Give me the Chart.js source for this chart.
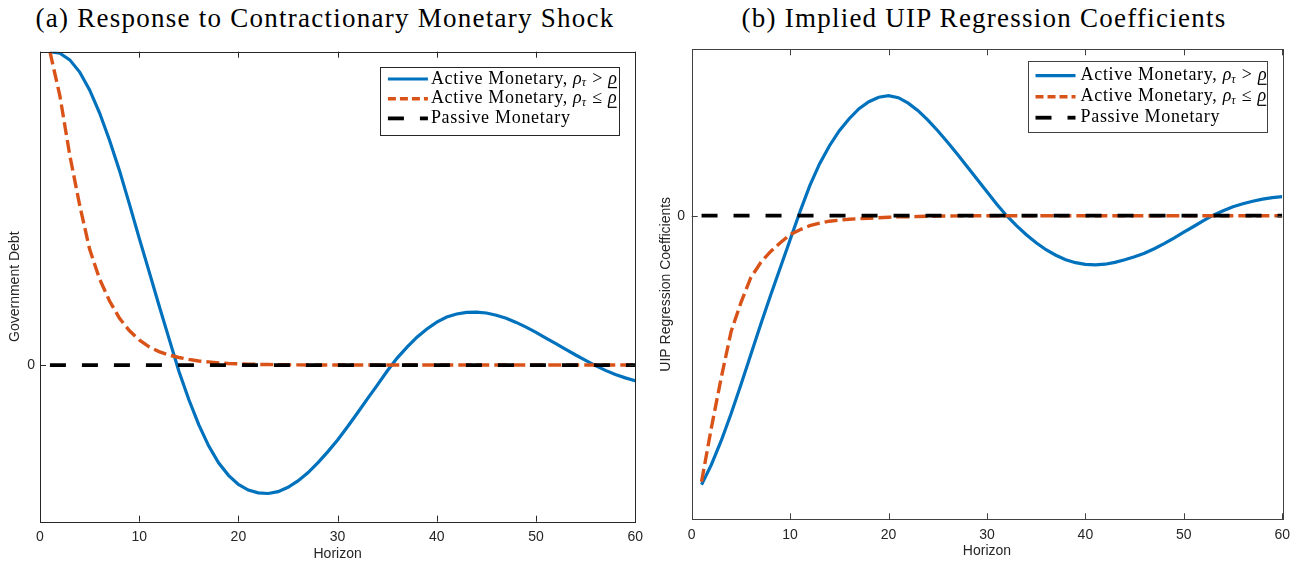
<!DOCTYPE html>
<html>
<head>
<meta charset="utf-8">
<script src="https://cdn.jsdelivr.net/npm/chart.js@4.4.1/dist/chart.umd.min.js"></script>
<style>
    body { margin: 0; background: #fff; width: 1297px; height: 563px; overflow: hidden; position: relative; }
    canvas { position: absolute; top: 0; }
    .panelTitle { position: absolute; top: 3px; font-family: "Liberation Serif", serif; font-size: 27px; letter-spacing: 1.25px; color: #000; white-space: nowrap; text-align: center; }
</style>
</head>
<body>
<div class="panelTitle" style="left:0; width:650px">(a) Response to Contractionary Monetary Shock</div>
<div class="panelTitle" style="left:660px; width:648px">(b) Implied UIP Regression Coefficients</div>
<canvas id="debtChart" width="650" height="563" style="left:0"></canvas>
<canvas id="uipChart" width="647" height="563" style="left:650px"></canvas>
<script>
const horizon = [1, 2, 3, 4, 5, 6, 7, 8, 9, 10, 11, 12, 13, 14, 15, 16, 17, 18, 19, 20,
    21, 22, 23, 24, 25, 26, 27, 28, 29, 30, 31, 32, 33, 34, 35, 36, 37, 38, 39, 40,
    41, 42, 43, 44, 45, 46, 47, 48, 49, 50, 51, 52, 53, 54, 55, 56, 57, 58, 59, 60];

// (a) government debt response
const debtActiveHigh = [1.0, 0.995, 0.974, 0.935, 0.878, 0.805, 0.718, 0.622, 0.515, 0.405,
    0.298, 0.19, 0.085, -0.02, -0.11, -0.19, -0.258, -0.312, -0.352, -0.381,
    -0.399, -0.408, -0.41, -0.404, -0.39, -0.37, -0.344, -0.312, -0.277, -0.239,
    -0.197, -0.153, -0.108, -0.064, -0.019, 0.022, 0.057, 0.089, 0.115, 0.137,
    0.153, 0.163, 0.168, 0.169, 0.166, 0.159, 0.149, 0.136, 0.121, 0.104,
    0.086, 0.068, 0.05, 0.032, 0.015, -0.002, -0.017, -0.03, -0.041, -0.05];
const debtActiveLow = [1.0, 0.86, 0.67, 0.51, 0.37, 0.275, 0.205, 0.15, 0.11, 0.08,
    0.058, 0.043, 0.032, 0.024, 0.018, 0.013, 0.01, 0.007, 0.005, 0.004,
    0.003, 0.002, 0.0015, 0.001, 0.0007, 0.0005, 0.0003, 0.0002, 0.0001, 0,
    0, 0, 0, 0, 0, 0, 0, 0, 0, 0,
    0, 0, 0, 0, 0, 0, 0, 0, 0, 0,
    0, 0, 0, 0, 0, 0, 0, 0, 0, 0];
const debtPassive = [0, 0, 0, 0, 0, 0, 0, 0, 0, 0, 0, 0, 0, 0, 0, 0, 0, 0, 0, 0,
    0, 0, 0, 0, 0, 0, 0, 0, 0, 0, 0, 0, 0, 0, 0, 0, 0, 0, 0, 0,
    0, 0, 0, 0, 0, 0, 0, 0, 0, 0, 0, 0, 0, 0, 0, 0, 0, 0, 0, 0];

// (b) implied UIP regression coefficients
const uipActiveHigh = [-2.69, -2.49, -2.25, -1.98, -1.69, -1.39, -1.09, -0.80, -0.52, -0.24,
    0.04, 0.30, 0.52, 0.70, 0.85, 0.97, 1.07, 1.14, 1.185, 1.20,
    1.18, 1.125, 1.05, 0.955, 0.85, 0.735, 0.615, 0.49, 0.365, 0.24,
    0.115, 0.0, -0.10, -0.19, -0.27, -0.34, -0.395, -0.44, -0.47, -0.487,
    -0.492, -0.485, -0.467, -0.44, -0.41, -0.375, -0.33, -0.28, -0.225, -0.165,
    -0.108, -0.05, 0.005, 0.05, 0.09, 0.12, 0.145, 0.165, 0.18, 0.19];
const uipActiveLow = [-2.66, -2.12, -1.62, -1.16, -0.87, -0.62, -0.47, -0.36, -0.27, -0.19,
    -0.14, -0.10, -0.075, -0.055, -0.045, -0.035, -0.03, -0.025, -0.02, -0.015,
    -0.012, -0.01, -0.008, -0.006, -0.004, -0.003, -0.002, -0.001, 0, 0,
    0, 0, 0, 0, 0, 0, 0, 0, 0, 0,
    0, 0, 0, 0, 0, 0, 0, 0, 0, 0,
    0, 0, 0, 0, 0, 0, 0, 0, 0, 0];
const uipPassive = [0, 0, 0, 0, 0, 0, 0, 0, 0, 0, 0, 0, 0, 0, 0, 0, 0, 0, 0, 0,
    0, 0, 0, 0, 0, 0, 0, 0, 0, 0, 0, 0, 0, 0, 0, 0, 0, 0, 0, 0,
    0, 0, 0, 0, 0, 0, 0, 0, 0, 0, 0, 0, 0, 0, 0, 0, 0, 0, 0, 0];

const xTicks = [0, 10, 20, 30, 40, 50, 60];
const yTicks = [0];
const seriesLabels = ['Active Monetary, ρτ > ρ', 'Active Monetary, ρτ ≤ ρ', 'Passive Monetary'];
// legend text pieces: plain, italic math, subscript, underlined
const legendParts = [
    [['Active Monetary, ', ''], ['ρ', 'i'], ['τ', 'sub'], [' > ', ''], ['ρ', 'u']],
    [['Active Monetary, ', ''], ['ρ', 'i'], ['τ', 'sub'], [' ≤ ', ''], ['ρ', 'u']],
    [['Passive Monetary', '']]
];

const blue = '#0072BD';
const orange = '#D95319';
const tickFont = { family: '"Liberation Sans", Arial, sans-serif', size: 14 };

function toPoints(ys) {
    return horizon.map((h, i) => ({ x: h, y: ys[i] }));
}

function buildDatasets(high, low, passive) {
    return [
        { label: seriesLabels[0], parts: legendParts[0], data: toPoints(high), borderColor: blue, borderWidth: 3.2, order: 3 },
        { label: seriesLabels[1], parts: legendParts[1], data: toPoints(low), borderColor: orange, borderWidth: 3.4, borderDash: [13, 5], legendDash: [8, 4], order: 2 },
        { label: seriesLabels[2], parts: legendParts[2], data: toPoints(passive), borderColor: '#000', borderWidth: 3.8, borderDash: [16, 16], order: 1 }
    ];
}

// matlab style box with ticks pointing inward
const boxAxes = {
    id: 'boxAxes',
    afterDatasetsDraw(chart, args, opts) {
        const ctx = chart.ctx;
        const a = chart.chartArea;
        const xs = chart.scales.x, ys = chart.scales.y;
        ctx.save();
        ctx.strokeStyle = opts.color;
        ctx.lineWidth = 1;
        ctx.strokeRect(Math.round(a.left) + 0.5, Math.round(a.top) + 0.5, Math.round(a.right - a.left), Math.round(a.bottom - a.top));
        ctx.beginPath();
        xTicks.forEach(v => {
            const px = Math.round(xs.getPixelForValue(v)) + 0.5;
            ctx.moveTo(px, a.bottom); ctx.lineTo(px, a.bottom - 6);
            ctx.moveTo(px, a.top); ctx.lineTo(px, a.top + 6);
        });
        yTicks.forEach(v => {
            const py = Math.round(ys.getPixelForValue(v)) + 0.5;
            ctx.moveTo(a.left, py); ctx.lineTo(a.left + 6, py);
            ctx.moveTo(a.right, py); ctx.lineTo(a.right - 6, py);
        });
        ctx.stroke();
        ctx.restore();
    }
};

const innerLegend = {
    id: 'innerLegend',
    afterDraw(chart, args, opts) {
        const ctx = chart.ctx;
        const a = chart.chartArea;
        const x0 = a.right - opts.right - opts.width;
        const y0 = a.top + opts.top;
        ctx.save();
        ctx.fillStyle = '#fff';
        ctx.fillRect(x0, y0, opts.width, opts.height);
        ctx.strokeStyle = opts.color;
        ctx.lineWidth = 1;
        ctx.strokeRect(Math.round(x0) + 0.5, Math.round(y0) + 0.5, Math.round(opts.width), Math.round(opts.height));
        chart.data.datasets.forEach((ds, i) => {
            const cy = y0 + opts.firstRow + i * opts.rowGap;
            ctx.beginPath();
            ctx.strokeStyle = ds.borderColor;
            ctx.lineWidth = ds.borderWidth;
            ctx.setLineDash(ds.legendDash || ds.borderDash || []);
            ctx.moveTo(x0 + 7.7, cy);
            ctx.lineTo(x0 + 47.7, cy);
            ctx.stroke();
            ctx.setLineDash([]);
            let tx = x0 + opts.textX;
            ctx.fillStyle = '#000';
            ctx.textBaseline = 'middle';
            ds.parts.forEach(([txt, kind]) => {
                ctx.letterSpacing = '0px';
                if (kind === 'sub') {
                    ctx.font = 'italic 12px "Liberation Serif", serif';
                    ctx.fillText(txt, tx, cy + 4);
                } else if (kind === 'i' || kind === 'u') {
                    ctx.font = 'italic 18px "Liberation Serif", serif';
                    ctx.fillText(txt, tx, cy);
                } else {
                    ctx.font = '18px "Liberation Serif", serif';
                    ctx.letterSpacing = '0.7px';
                    ctx.fillText(txt, tx, cy);
                }
                const w = ctx.measureText(txt).width;
                if (kind === 'u') {
                    ctx.fillRect(tx, cy + 8, w, 1.2);
                }
                tx += w + (kind === 'sub' ? 1 : 0);
            });
        });
        ctx.restore();
    }
};

function makeChart(canvasId, cfg) {
    return new Chart(document.getElementById(canvasId), {
        type: 'line',
        data: { datasets: buildDatasets(cfg.high, cfg.low, cfg.passive) },
        options: {
            responsive: false,
            animation: false,
            events: [],
            layout: { padding: { top: cfg.top, right: cfg.padRight, left: 0, bottom: 0 } },
            elements: { point: { radius: 0 }, line: { tension: 0, fill: false } },
            scales: {
                x: {
                    type: 'linear', min: 0, max: 60,
                    afterBuildTicks: (scale) => { scale.ticks = xTicks.map(v => ({ value: v })); },
                    afterFit: (scale) => { scale.height = cfg.xHeight; },
                    grid: { display: false, drawTicks: false },
                    border: { display: false },
                    ticks: { color: '#262626', font: tickFont, padding: cfg.xTickPad, maxRotation: 0 },
                    title: { display: true, text: 'Horizon', color: '#262626', font: tickFont, padding: { top: 0, bottom: cfg.xTitlePad } }
                },
                y: {
                    type: 'linear', min: cfg.yMin, max: cfg.yMax,
                    afterBuildTicks: (scale) => { scale.ticks = yTicks.map(v => ({ value: v })); },
                    afterFit: (scale) => { scale.width = cfg.yWidth; },
                    grid: { display: false, drawTicks: false },
                    border: { display: false },
                    ticks: { color: '#262626', font: tickFont, padding: cfg.yTickPad },
                    title: { display: true, text: cfg.yTitle, color: '#262626', font: tickFont, padding: { top: cfg.yTitlePad, bottom: 0 } }
                }
            },
            plugins: {
                legend: { display: false },
                tooltip: { enabled: false },
                boxAxes: { color: cfg.axisColor },
                innerLegend: cfg.legend
            }
        },
        plugins: [boxAxes, innerLegend]
    });
}

makeChart('debtChart', {
    high: debtActiveHigh, low: debtActiveLow, passive: debtPassive,
    yMin: -0.5, yMax: 1.0, yTitle: 'Government Debt',
    top: 51.7, padRight: 13, xHeight: 41.3, yWidth: 40,
    xTickPad: 7, xTitlePad: 0, yTickPad: 5, yTitlePad: 7,
    axisColor: '#262626',
    legend: { right: 16, top: 15, width: 239, height: 68, firstRow: 12.3, rowGap: 19.7, textX: 50.7, color: '#262626' }
});

makeChart('uipChart', {
    high: uipActiveHigh, low: uipActiveLow, passive: uipPassive,
    yMin: -3.036, yMax: 1.664, yTitle: 'UIP Regression Coefficients',
    top: 49.3, padRight: 10.3, xHeight: 43.7, yWidth: 41.7,
    xTickPad: 7, xTitlePad: 3, yTickPad: 6.7, yTitlePad: 8,
    axisColor: '#404040',
    legend: { right: 15, top: 11.7, width: 239.4, height: 71.3, firstRow: 14.7, rowGap: 21, textX: 52.7, color: '#404040' }
});
</script>
</body>
</html>
